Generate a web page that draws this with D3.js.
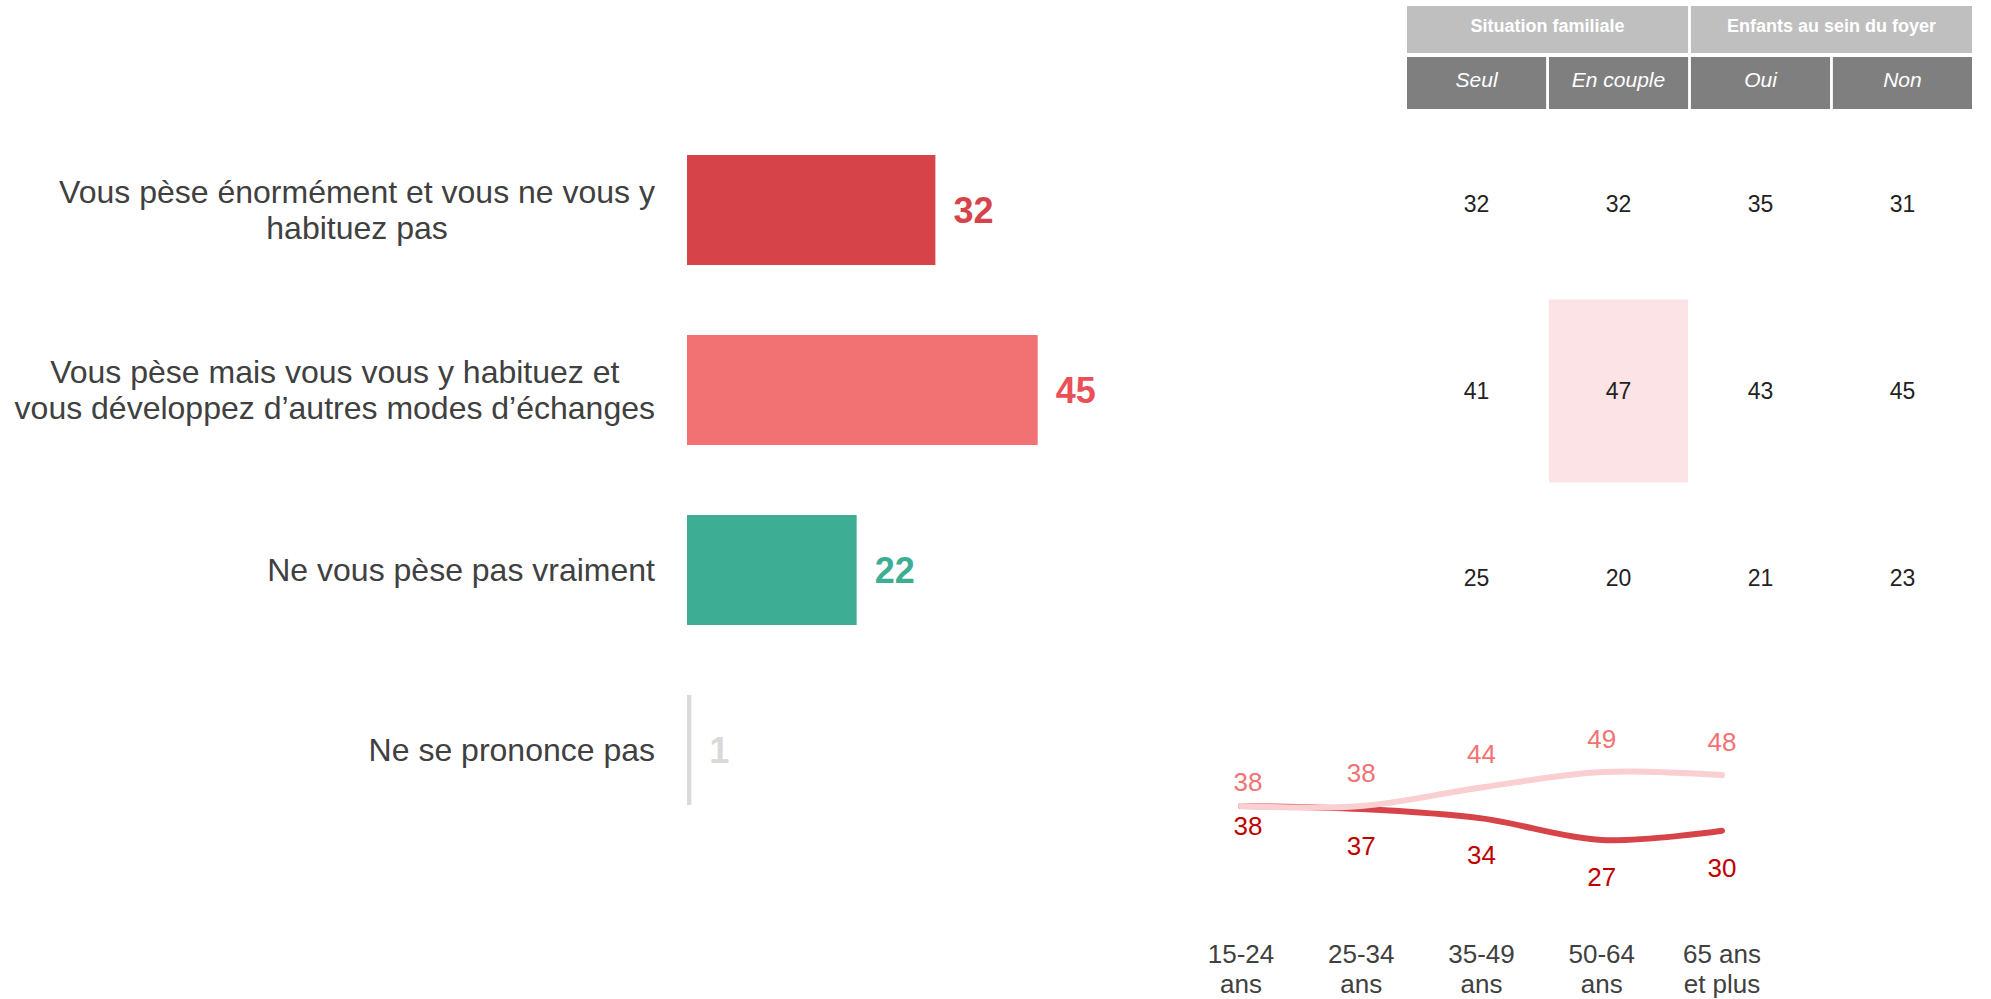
<!DOCTYPE html>
<html>
<head>
<meta charset="utf-8">
<script src="https://cdn.jsdelivr.net/npm/d3@7"></script>
<style>
  body { margin: 0; background: #fff; }
  text { font-family: "Liberation Sans", Arial, sans-serif; }
</style>
</head>
<body>
<div id="chart"></div>
<script>
// ---- data ----
const categoryLines = [
  ["Vous pèse énormément et vous ne vous y", "habituez pas"],
  ["Vous pèse mais vous vous y habituez et", "vous développez d’autres modes d’échanges"],
  ["Ne vous pèse pas vraiment"],
  ["Ne se prononce pas"]
];
const shares = [32, 45, 22, 1];
const barColors = ["#d6444a", "#f27274", "#3dae94", "#d9d9d9"];
const valueColors = ["#d6444a", "#ea5058", "#3dae94", "#d9d9d9"];

const groupHeaders = ["Situation familiale", "Enfants au sein du foyer"];
const subHeaders = ["Seul", "En couple", "Oui", "Non"];
const tableValues = [
  [32, 32, 35, 31],
  [41, 47, 43, 45],
  [25, 20, 21, 23]
];
const highlightCell = [1, 1]; // row, col

const ageGroups = [["15-24", "ans"], ["25-34", "ans"], ["35-49", "ans"], ["50-64", "ans"], ["65 ans", "et plus"]];
const habituez = [38, 38, 44, 49, 48];   // light line
const pesent = [38, 37, 34, 27, 30];     // dark line

const W = 1991, H = 999;

const svg = d3.select("#chart").append("svg")
  .attr("width", W)
  .attr("height", H);

// ---- left: horizontal bars ----
const barStart = 687;
const x = d3.scaleLinear().domain([0, 45]).range([683.5, 1037.7]);
const yc = d3.scalePoint().domain(d3.range(shares.length)).range([210, 750]);
const barH = 110;

svg.append("g").selectAll("rect")
  .data(shares)
  .join("rect")
  .attr("x", barStart)
  .attr("y", (d, i) => yc(i) - barH / 2)
  .attr("width", d => Math.max(3, x(d) - barStart))
  .attr("height", barH)
  .attr("fill", (d, i) => barColors[i]);

svg.append("g").selectAll("text")
  .data(shares)
  .join("text")
  .attr("x", d => Math.max(barStart + 3, x(d)) + 18)
  .attr("y", (d, i) => yc(i))
  .attr("dominant-baseline", "central")
  .attr("font-size", 36)
  .attr("font-weight", "bold")
  .attr("fill", (d, i) => valueColors[i])
  .text(d => d);

// category labels: block right-aligned, lines centred inside the block
const labelRight = 655, lineGap = 36;
categoryLines.forEach((lines, i) => {
  const g = svg.append("g");
  const t = g.selectAll("text")
    .data(lines)
    .join("text")
    .attr("y", (d, j) => yc(i) + (j - (lines.length - 1) / 2) * lineGap)
    .attr("dominant-baseline", "central")
    .attr("font-size", 32)
    .attr("fill", "#404040")
    .attr("text-anchor", "middle")
    .text(d => d);
  const maxW = d3.max(t.nodes(), n => n.getComputedTextLength());
  t.attr("x", labelRight - maxW / 2);
});

// ---- right: table ----
const col = d3.scaleBand().domain(d3.range(subHeaders.length)).range([1407, 1972]).paddingInner(0.02);
const row = d3.scalePoint().domain(d3.range(tableValues.length)).range([204, 578]);

const hdr = svg.append("g");
groupHeaders.forEach((h, k) => {
  const x0 = col(k * 2), x1 = col(k * 2 + 1) + col.bandwidth();
  hdr.append("rect")
    .attr("x", x0).attr("y", 6)
    .attr("width", x1 - x0).attr("height", 47)
    .attr("fill", "#bfbfbf");
  hdr.append("text")
    .attr("x", (x0 + x1) / 2).attr("y", 26)
    .attr("text-anchor", "middle")
    .attr("dominant-baseline", "central")
    .attr("font-size", 18)
    .attr("font-weight", "bold")
    .attr("fill", "#fff")
    .text(h);
});

hdr.selectAll("rect.sub")
  .data(subHeaders)
  .join("rect")
  .attr("class", "sub")
  .attr("x", (d, i) => col(i)).attr("y", 57)
  .attr("width", col.bandwidth()).attr("height", 52)
  .attr("fill", "#7f7f7f");

hdr.selectAll("text.sub")
  .data(subHeaders)
  .join("text")
  .attr("class", "sub")
  .attr("x", (d, i) => col(i) + col.bandwidth() / 2)
  .attr("y", 79)
  .attr("text-anchor", "middle")
  .attr("dominant-baseline", "central")
  .attr("font-size", 21)
  .attr("font-style", "italic")
  .attr("fill", "#fff")
  .text(d => d);

const rowStep = row.step();
svg.append("rect")
  .attr("x", col(highlightCell[1]))
  .attr("y", row(highlightCell[0]) - rowStep / 2 + 2)
  .attr("width", col.bandwidth())
  .attr("height", rowStep - 4)
  .attr("fill", "#fce4e6");

const cells = tableValues.flatMap((r, i) => r.map((v, j) => ({ v, i, j })));
svg.append("g").selectAll("text")
  .data(cells)
  .join("text")
  .attr("x", d => col(d.j) + col.bandwidth() / 2)
  .attr("y", d => row(d.i))
  .attr("text-anchor", "middle")
  .attr("dominant-baseline", "central")
  .attr("font-size", 23)
  .attr("fill", "#222")
  .text(d => d.v);

// ---- bottom right: age lines ----
const ax = d3.scalePoint().domain(d3.range(ageGroups.length)).range([1241, 1722]);
const ay = d3.scaleLinear().domain([27, 49]).range([840, 772]);
const line = d3.line()
  .x((d, i) => ax(i))
  .y(d => ay(d))
  .curve(d3.curveCatmullRom.alpha(0.5));

svg.append("path")
  .datum(pesent)
  .attr("d", line)
  .attr("fill", "none")
  .attr("stroke", "#d6444a")
  .attr("stroke-width", 6)
  .attr("stroke-linecap", "round");

svg.append("path")
  .datum(habituez)
  .attr("d", line)
  .attr("fill", "none")
  .attr("stroke", "#f9cfd1")
  .attr("stroke-width", 6)
  .attr("stroke-linecap", "round");

svg.append("g").selectAll("text")
  .data(habituez)
  .join("text")
  .attr("x", (d, i) => ax(i) + (i === 0 ? 7 : 0))
  .attr("y", (d, i) => ay(d) - (i === 0 ? 24 : 33))
  .attr("text-anchor", "middle")
  .attr("dominant-baseline", "central")
  .attr("font-size", 26)
  .attr("fill", "#f27274")
  .text(d => d);

svg.append("g").selectAll("text")
  .data(pesent)
  .join("text")
  .attr("x", (d, i) => ax(i) + (i === 0 ? 7 : 0))
  .attr("y", (d, i) => ay(d) + (i === 0 ? 20 : 37))
  .attr("text-anchor", "middle")
  .attr("dominant-baseline", "central")
  .attr("font-size", 26)
  .attr("fill", "#c00000")
  .text(d => d);

const axisG = svg.append("g");
ageGroups.forEach((lines, i) => {
  axisG.selectAll(null)
    .data(lines)
    .join("text")
    .attr("x", ax(i))
    .attr("y", (d, j) => 954 + j * 30)
    .attr("text-anchor", "middle")
    .attr("dominant-baseline", "central")
    .attr("font-size", 26)
    .attr("fill", "#404040")
    .text(d => d);
});
</script>
</body>
</html>
